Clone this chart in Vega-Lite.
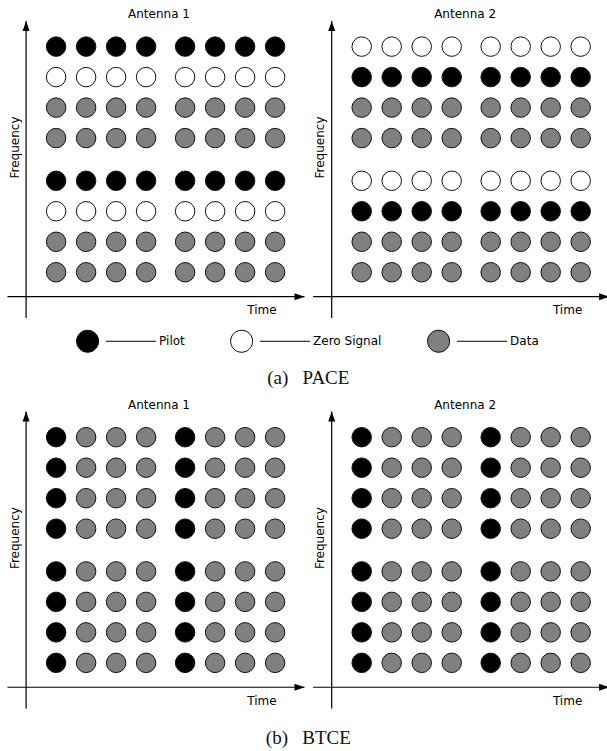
{
  "$schema": "https://vega.github.io/schema/vega-lite/v6.json",
  "padding": {"left": 6.5, "top": 8, "right": 0, "bottom": 0},
  "background": "white",
  "datasets": {
    "pace_antenna1": [
      {"time":1,"freq":8.4,"type":"Pilot"},{"time":2,"freq":8.4,"type":"Pilot"},{"time":3,"freq":8.4,"type":"Pilot"},{"time":4,"freq":8.4,"type":"Pilot"},{"time":5.3,"freq":8.4,"type":"Pilot"},{"time":6.3,"freq":8.4,"type":"Pilot"},{"time":7.3,"freq":8.4,"type":"Pilot"},{"time":8.3,"freq":8.4,"type":"Pilot"},
      {"time":1,"freq":7.4,"type":"Zero Signal"},{"time":2,"freq":7.4,"type":"Zero Signal"},{"time":3,"freq":7.4,"type":"Zero Signal"},{"time":4,"freq":7.4,"type":"Zero Signal"},{"time":5.3,"freq":7.4,"type":"Zero Signal"},{"time":6.3,"freq":7.4,"type":"Zero Signal"},{"time":7.3,"freq":7.4,"type":"Zero Signal"},{"time":8.3,"freq":7.4,"type":"Zero Signal"},
      {"time":1,"freq":6.4,"type":"Data"},{"time":2,"freq":6.4,"type":"Data"},{"time":3,"freq":6.4,"type":"Data"},{"time":4,"freq":6.4,"type":"Data"},{"time":5.3,"freq":6.4,"type":"Data"},{"time":6.3,"freq":6.4,"type":"Data"},{"time":7.3,"freq":6.4,"type":"Data"},{"time":8.3,"freq":6.4,"type":"Data"},
      {"time":1,"freq":5.4,"type":"Data"},{"time":2,"freq":5.4,"type":"Data"},{"time":3,"freq":5.4,"type":"Data"},{"time":4,"freq":5.4,"type":"Data"},{"time":5.3,"freq":5.4,"type":"Data"},{"time":6.3,"freq":5.4,"type":"Data"},{"time":7.3,"freq":5.4,"type":"Data"},{"time":8.3,"freq":5.4,"type":"Data"},
      {"time":1,"freq":4,"type":"Pilot"},{"time":2,"freq":4,"type":"Pilot"},{"time":3,"freq":4,"type":"Pilot"},{"time":4,"freq":4,"type":"Pilot"},{"time":5.3,"freq":4,"type":"Pilot"},{"time":6.3,"freq":4,"type":"Pilot"},{"time":7.3,"freq":4,"type":"Pilot"},{"time":8.3,"freq":4,"type":"Pilot"},
      {"time":1,"freq":3,"type":"Zero Signal"},{"time":2,"freq":3,"type":"Zero Signal"},{"time":3,"freq":3,"type":"Zero Signal"},{"time":4,"freq":3,"type":"Zero Signal"},{"time":5.3,"freq":3,"type":"Zero Signal"},{"time":6.3,"freq":3,"type":"Zero Signal"},{"time":7.3,"freq":3,"type":"Zero Signal"},{"time":8.3,"freq":3,"type":"Zero Signal"},
      {"time":1,"freq":2,"type":"Data"},{"time":2,"freq":2,"type":"Data"},{"time":3,"freq":2,"type":"Data"},{"time":4,"freq":2,"type":"Data"},{"time":5.3,"freq":2,"type":"Data"},{"time":6.3,"freq":2,"type":"Data"},{"time":7.3,"freq":2,"type":"Data"},{"time":8.3,"freq":2,"type":"Data"},
      {"time":1,"freq":1,"type":"Data"},{"time":2,"freq":1,"type":"Data"},{"time":3,"freq":1,"type":"Data"},{"time":4,"freq":1,"type":"Data"},{"time":5.3,"freq":1,"type":"Data"},{"time":6.3,"freq":1,"type":"Data"},{"time":7.3,"freq":1,"type":"Data"},{"time":8.3,"freq":1,"type":"Data"}
    ],
    "pace_antenna2": [
      {"time":1,"freq":8.4,"type":"Zero Signal"},{"time":2,"freq":8.4,"type":"Zero Signal"},{"time":3,"freq":8.4,"type":"Zero Signal"},{"time":4,"freq":8.4,"type":"Zero Signal"},{"time":5.3,"freq":8.4,"type":"Zero Signal"},{"time":6.3,"freq":8.4,"type":"Zero Signal"},{"time":7.3,"freq":8.4,"type":"Zero Signal"},{"time":8.3,"freq":8.4,"type":"Zero Signal"},
      {"time":1,"freq":7.4,"type":"Pilot"},{"time":2,"freq":7.4,"type":"Pilot"},{"time":3,"freq":7.4,"type":"Pilot"},{"time":4,"freq":7.4,"type":"Pilot"},{"time":5.3,"freq":7.4,"type":"Pilot"},{"time":6.3,"freq":7.4,"type":"Pilot"},{"time":7.3,"freq":7.4,"type":"Pilot"},{"time":8.3,"freq":7.4,"type":"Pilot"},
      {"time":1,"freq":6.4,"type":"Data"},{"time":2,"freq":6.4,"type":"Data"},{"time":3,"freq":6.4,"type":"Data"},{"time":4,"freq":6.4,"type":"Data"},{"time":5.3,"freq":6.4,"type":"Data"},{"time":6.3,"freq":6.4,"type":"Data"},{"time":7.3,"freq":6.4,"type":"Data"},{"time":8.3,"freq":6.4,"type":"Data"},
      {"time":1,"freq":5.4,"type":"Data"},{"time":2,"freq":5.4,"type":"Data"},{"time":3,"freq":5.4,"type":"Data"},{"time":4,"freq":5.4,"type":"Data"},{"time":5.3,"freq":5.4,"type":"Data"},{"time":6.3,"freq":5.4,"type":"Data"},{"time":7.3,"freq":5.4,"type":"Data"},{"time":8.3,"freq":5.4,"type":"Data"},
      {"time":1,"freq":4,"type":"Zero Signal"},{"time":2,"freq":4,"type":"Zero Signal"},{"time":3,"freq":4,"type":"Zero Signal"},{"time":4,"freq":4,"type":"Zero Signal"},{"time":5.3,"freq":4,"type":"Zero Signal"},{"time":6.3,"freq":4,"type":"Zero Signal"},{"time":7.3,"freq":4,"type":"Zero Signal"},{"time":8.3,"freq":4,"type":"Zero Signal"},
      {"time":1,"freq":3,"type":"Pilot"},{"time":2,"freq":3,"type":"Pilot"},{"time":3,"freq":3,"type":"Pilot"},{"time":4,"freq":3,"type":"Pilot"},{"time":5.3,"freq":3,"type":"Pilot"},{"time":6.3,"freq":3,"type":"Pilot"},{"time":7.3,"freq":3,"type":"Pilot"},{"time":8.3,"freq":3,"type":"Pilot"},
      {"time":1,"freq":2,"type":"Data"},{"time":2,"freq":2,"type":"Data"},{"time":3,"freq":2,"type":"Data"},{"time":4,"freq":2,"type":"Data"},{"time":5.3,"freq":2,"type":"Data"},{"time":6.3,"freq":2,"type":"Data"},{"time":7.3,"freq":2,"type":"Data"},{"time":8.3,"freq":2,"type":"Data"},
      {"time":1,"freq":1,"type":"Data"},{"time":2,"freq":1,"type":"Data"},{"time":3,"freq":1,"type":"Data"},{"time":4,"freq":1,"type":"Data"},{"time":5.3,"freq":1,"type":"Data"},{"time":6.3,"freq":1,"type":"Data"},{"time":7.3,"freq":1,"type":"Data"},{"time":8.3,"freq":1,"type":"Data"}
    ],
    "btce_antenna1": [
      {"time":1,"freq":8.4,"type":"Pilot"},{"time":2,"freq":8.4,"type":"Data"},{"time":3,"freq":8.4,"type":"Data"},{"time":4,"freq":8.4,"type":"Data"},{"time":5.3,"freq":8.4,"type":"Pilot"},{"time":6.3,"freq":8.4,"type":"Data"},{"time":7.3,"freq":8.4,"type":"Data"},{"time":8.3,"freq":8.4,"type":"Data"},
      {"time":1,"freq":7.4,"type":"Pilot"},{"time":2,"freq":7.4,"type":"Data"},{"time":3,"freq":7.4,"type":"Data"},{"time":4,"freq":7.4,"type":"Data"},{"time":5.3,"freq":7.4,"type":"Pilot"},{"time":6.3,"freq":7.4,"type":"Data"},{"time":7.3,"freq":7.4,"type":"Data"},{"time":8.3,"freq":7.4,"type":"Data"},
      {"time":1,"freq":6.4,"type":"Pilot"},{"time":2,"freq":6.4,"type":"Data"},{"time":3,"freq":6.4,"type":"Data"},{"time":4,"freq":6.4,"type":"Data"},{"time":5.3,"freq":6.4,"type":"Pilot"},{"time":6.3,"freq":6.4,"type":"Data"},{"time":7.3,"freq":6.4,"type":"Data"},{"time":8.3,"freq":6.4,"type":"Data"},
      {"time":1,"freq":5.4,"type":"Pilot"},{"time":2,"freq":5.4,"type":"Data"},{"time":3,"freq":5.4,"type":"Data"},{"time":4,"freq":5.4,"type":"Data"},{"time":5.3,"freq":5.4,"type":"Pilot"},{"time":6.3,"freq":5.4,"type":"Data"},{"time":7.3,"freq":5.4,"type":"Data"},{"time":8.3,"freq":5.4,"type":"Data"},
      {"time":1,"freq":4,"type":"Pilot"},{"time":2,"freq":4,"type":"Data"},{"time":3,"freq":4,"type":"Data"},{"time":4,"freq":4,"type":"Data"},{"time":5.3,"freq":4,"type":"Pilot"},{"time":6.3,"freq":4,"type":"Data"},{"time":7.3,"freq":4,"type":"Data"},{"time":8.3,"freq":4,"type":"Data"},
      {"time":1,"freq":3,"type":"Pilot"},{"time":2,"freq":3,"type":"Data"},{"time":3,"freq":3,"type":"Data"},{"time":4,"freq":3,"type":"Data"},{"time":5.3,"freq":3,"type":"Pilot"},{"time":6.3,"freq":3,"type":"Data"},{"time":7.3,"freq":3,"type":"Data"},{"time":8.3,"freq":3,"type":"Data"},
      {"time":1,"freq":2,"type":"Pilot"},{"time":2,"freq":2,"type":"Data"},{"time":3,"freq":2,"type":"Data"},{"time":4,"freq":2,"type":"Data"},{"time":5.3,"freq":2,"type":"Pilot"},{"time":6.3,"freq":2,"type":"Data"},{"time":7.3,"freq":2,"type":"Data"},{"time":8.3,"freq":2,"type":"Data"},
      {"time":1,"freq":1,"type":"Pilot"},{"time":2,"freq":1,"type":"Data"},{"time":3,"freq":1,"type":"Data"},{"time":4,"freq":1,"type":"Data"},{"time":5.3,"freq":1,"type":"Pilot"},{"time":6.3,"freq":1,"type":"Data"},{"time":7.3,"freq":1,"type":"Data"},{"time":8.3,"freq":1,"type":"Data"}
    ],
    "btce_antenna2": [
      {"time":1,"freq":8.4,"type":"Pilot"},{"time":2,"freq":8.4,"type":"Data"},{"time":3,"freq":8.4,"type":"Data"},{"time":4,"freq":8.4,"type":"Data"},{"time":5.3,"freq":8.4,"type":"Pilot"},{"time":6.3,"freq":8.4,"type":"Data"},{"time":7.3,"freq":8.4,"type":"Data"},{"time":8.3,"freq":8.4,"type":"Data"},
      {"time":1,"freq":7.4,"type":"Pilot"},{"time":2,"freq":7.4,"type":"Data"},{"time":3,"freq":7.4,"type":"Data"},{"time":4,"freq":7.4,"type":"Data"},{"time":5.3,"freq":7.4,"type":"Pilot"},{"time":6.3,"freq":7.4,"type":"Data"},{"time":7.3,"freq":7.4,"type":"Data"},{"time":8.3,"freq":7.4,"type":"Data"},
      {"time":1,"freq":6.4,"type":"Pilot"},{"time":2,"freq":6.4,"type":"Data"},{"time":3,"freq":6.4,"type":"Data"},{"time":4,"freq":6.4,"type":"Data"},{"time":5.3,"freq":6.4,"type":"Pilot"},{"time":6.3,"freq":6.4,"type":"Data"},{"time":7.3,"freq":6.4,"type":"Data"},{"time":8.3,"freq":6.4,"type":"Data"},
      {"time":1,"freq":5.4,"type":"Pilot"},{"time":2,"freq":5.4,"type":"Data"},{"time":3,"freq":5.4,"type":"Data"},{"time":4,"freq":5.4,"type":"Data"},{"time":5.3,"freq":5.4,"type":"Pilot"},{"time":6.3,"freq":5.4,"type":"Data"},{"time":7.3,"freq":5.4,"type":"Data"},{"time":8.3,"freq":5.4,"type":"Data"},
      {"time":1,"freq":4,"type":"Pilot"},{"time":2,"freq":4,"type":"Data"},{"time":3,"freq":4,"type":"Data"},{"time":4,"freq":4,"type":"Data"},{"time":5.3,"freq":4,"type":"Pilot"},{"time":6.3,"freq":4,"type":"Data"},{"time":7.3,"freq":4,"type":"Data"},{"time":8.3,"freq":4,"type":"Data"},
      {"time":1,"freq":3,"type":"Pilot"},{"time":2,"freq":3,"type":"Data"},{"time":3,"freq":3,"type":"Data"},{"time":4,"freq":3,"type":"Data"},{"time":5.3,"freq":3,"type":"Pilot"},{"time":6.3,"freq":3,"type":"Data"},{"time":7.3,"freq":3,"type":"Data"},{"time":8.3,"freq":3,"type":"Data"},
      {"time":1,"freq":2,"type":"Pilot"},{"time":2,"freq":2,"type":"Data"},{"time":3,"freq":2,"type":"Data"},{"time":4,"freq":2,"type":"Data"},{"time":5.3,"freq":2,"type":"Pilot"},{"time":6.3,"freq":2,"type":"Data"},{"time":7.3,"freq":2,"type":"Data"},{"time":8.3,"freq":2,"type":"Data"},
      {"time":1,"freq":1,"type":"Pilot"},{"time":2,"freq":1,"type":"Data"},{"time":3,"freq":1,"type":"Data"},{"time":4,"freq":1,"type":"Data"},{"time":5.3,"freq":1,"type":"Pilot"},{"time":6.3,"freq":1,"type":"Data"},{"time":7.3,"freq":1,"type":"Data"},{"time":8.3,"freq":1,"type":"Data"}
    ]
  },
  "spacing": 10.6,
  "vconcat": [
    {
      "title": {"text": "(a)\u00a0\u00a0\u00a0PACE", "orient": "bottom", "anchor": "middle", "font": "Liberation Serif", "fontSize": 19, "fontWeight": "normal", "color": "#111", "offset": 68, "baseline": "alphabetic", "dy": -3},
      "spacing": 6.6,
      "hconcat": [
        {
          "width": 297, "height": 297,
          "title": {"text": "Antenna 1", "dx": 3, "dy": 5},
          "data": {"name": "pace_antenna1"},
          "layer": [
            {"mark": {"type": "circle", "size": 380, "opacity": 1, "stroke": "#111", "strokeWidth": 1},
             "encoding": {
               "x": {"field": "time", "type": "quantitative", "scale": {"domain": [-0.62, 9.28], "nice": false, "zero": false}, "axis": {"title": "Time"}},
               "y": {"field": "freq", "type": "quantitative", "scale": {"domain": [-0.5, 9.24], "nice": false, "zero": false}, "axis": {"title": "Frequency"}},
               "fill": {"field": "type", "type": "nominal", "scale": {"domain": ["Pilot", "Zero Signal", "Data"], "range": ["#000000", "#ffffff", "#808080"]},
                 "legend": {"orient": "none", "legendX": 68.6, "legendY": 308.5, "direction": "horizontal", "title": null, "padding": 0,
                   "symbolType": "M1,0C1,0.552,0.552,1,0,1C-0.552,1,-1,0.552,-1,0C-1,-0.552,-0.552,-1,0,-1C0.552,-1,1,-0.552,1,0ZM1.67,0L6.22,0",
                   "symbolSize": 484, "symbolStrokeColor": "#000", "symbolStrokeWidth": 1, "symbolOpacity": 1,
                   "labelOffset": 60, "labelFontSize": 12, "labelFont": "DejaVu Sans", "labelColor": "#000", "labelLimit": 200, "columnPadding": 43}}
             }},
            {"data": {"values": [{}]}, "mark": {"type": "rule", "color": "#000", "strokeWidth": 1.2}, "encoding": {"x": {"datum": 0}}},
            {"data": {"values": [{}]}, "mark": {"type": "rule", "color": "#000", "strokeWidth": 1.2}, "encoding": {"y": {"datum": 0.2}}},
            {"data": {"values": [{}]}, "mark": {"type": "point", "filled": true, "opacity": 1, "color": "#000", "size": 100, "shape": "M0,0L-2,-0.7L-2,0.7Z"}, "encoding": {"x": {"datum": 9.28}, "y": {"datum": 0.2}}},
            {"data": {"values": [{}]}, "mark": {"type": "point", "filled": true, "opacity": 1, "color": "#000", "size": 100, "shape": "M0,0L-0.7,2L0.7,2Z"}, "encoding": {"x": {"datum": 0}, "y": {"datum": 9.24}}}
          ]
        },
        {
          "width": 296, "height": 297,
          "title": {"text": "Antenna 2", "dx": 4, "dy": 5},
          "data": {"name": "pace_antenna2"},
          "layer": [
            {"mark": {"type": "circle", "size": 380, "opacity": 1, "stroke": "#111", "strokeWidth": 1},
             "encoding": {
               "x": {"field": "time", "type": "quantitative", "scale": {"domain": [-0.62, 9.247], "nice": false, "zero": false}, "axis": {"title": "Time"}},
               "y": {"field": "freq", "type": "quantitative", "scale": {"domain": [-0.5, 9.24], "nice": false, "zero": false}, "axis": {"title": "Frequency"}},
               "fill": {"field": "type", "type": "nominal", "scale": {"domain": ["Pilot", "Zero Signal", "Data"], "range": ["#000000", "#ffffff", "#808080"]}, "legend": null}
             }},
            {"data": {"values": [{}]}, "mark": {"type": "rule", "color": "#000", "strokeWidth": 1.2}, "encoding": {"x": {"datum": 0}}},
            {"data": {"values": [{}]}, "mark": {"type": "rule", "color": "#000", "strokeWidth": 1.2}, "encoding": {"y": {"datum": 0.2}}},
            {"data": {"values": [{}]}, "mark": {"type": "point", "filled": true, "opacity": 1, "color": "#000", "size": 100, "shape": "M0,0L-2,-0.7L-2,0.7Z"}, "encoding": {"x": {"datum": 9.247}, "y": {"datum": 0.2}}},
            {"data": {"values": [{}]}, "mark": {"type": "point", "filled": true, "opacity": 1, "color": "#000", "size": 100, "shape": "M0,0L-0.7,2L0.7,2Z"}, "encoding": {"x": {"datum": 0}, "y": {"datum": 9.24}}}
          ]
        }
      ]
    },
    {
      "title": {"text": "(b)\u00a0\u00a0\u00a0BTCE", "orient": "bottom", "anchor": "middle", "font": "Liberation Serif", "fontSize": 19, "fontWeight": "normal", "color": "#111", "offset": 35, "baseline": "alphabetic"},
      "spacing": 6.6,
      "hconcat": [
        {
          "width": 297, "height": 297,
          "title": {"text": "Antenna 1", "dx": 3, "dy": 5},
          "data": {"name": "btce_antenna1"},
          "layer": [
            {"mark": {"type": "circle", "size": 380, "opacity": 1, "stroke": "#111", "strokeWidth": 1},
             "encoding": {
               "x": {"field": "time", "type": "quantitative", "scale": {"domain": [-0.62, 9.28], "nice": false, "zero": false}, "axis": {"title": "Time"}},
               "y": {"field": "freq", "type": "quantitative", "scale": {"domain": [-0.5, 9.24], "nice": false, "zero": false}, "axis": {"title": "Frequency"}},
               "fill": {"field": "type", "type": "nominal", "scale": {"domain": ["Pilot", "Zero Signal", "Data"], "range": ["#000000", "#ffffff", "#808080"]}, "legend": null}
             }},
            {"data": {"values": [{}]}, "mark": {"type": "rule", "color": "#000", "strokeWidth": 1.2}, "encoding": {"x": {"datum": 0}}},
            {"data": {"values": [{}]}, "mark": {"type": "rule", "color": "#000", "strokeWidth": 1.2}, "encoding": {"y": {"datum": 0.2}}},
            {"data": {"values": [{}]}, "mark": {"type": "point", "filled": true, "opacity": 1, "color": "#000", "size": 100, "shape": "M0,0L-2,-0.7L-2,0.7Z"}, "encoding": {"x": {"datum": 9.28}, "y": {"datum": 0.2}}},
            {"data": {"values": [{}]}, "mark": {"type": "point", "filled": true, "opacity": 1, "color": "#000", "size": 100, "shape": "M0,0L-0.7,2L0.7,2Z"}, "encoding": {"x": {"datum": 0}, "y": {"datum": 9.24}}}
          ]
        },
        {
          "width": 296, "height": 297,
          "title": {"text": "Antenna 2", "dx": 4, "dy": 5},
          "data": {"name": "btce_antenna2"},
          "layer": [
            {"mark": {"type": "circle", "size": 380, "opacity": 1, "stroke": "#111", "strokeWidth": 1},
             "encoding": {
               "x": {"field": "time", "type": "quantitative", "scale": {"domain": [-0.62, 9.247], "nice": false, "zero": false}, "axis": {"title": "Time"}},
               "y": {"field": "freq", "type": "quantitative", "scale": {"domain": [-0.5, 9.24], "nice": false, "zero": false}, "axis": {"title": "Frequency"}},
               "fill": {"field": "type", "type": "nominal", "scale": {"domain": ["Pilot", "Zero Signal", "Data"], "range": ["#000000", "#ffffff", "#808080"]}, "legend": null}
             }},
            {"data": {"values": [{}]}, "mark": {"type": "rule", "color": "#000", "strokeWidth": 1.2}, "encoding": {"x": {"datum": 0}}},
            {"data": {"values": [{}]}, "mark": {"type": "rule", "color": "#000", "strokeWidth": 1.2}, "encoding": {"y": {"datum": 0.2}}},
            {"data": {"values": [{}]}, "mark": {"type": "point", "filled": true, "opacity": 1, "color": "#000", "size": 100, "shape": "M0,0L-2,-0.7L-2,0.7Z"}, "encoding": {"x": {"datum": 9.247}, "y": {"datum": 0.2}}},
            {"data": {"values": [{}]}, "mark": {"type": "point", "filled": true, "opacity": 1, "color": "#000", "size": 100, "shape": "M0,0L-0.7,2L0.7,2Z"}, "encoding": {"x": {"datum": 0}, "y": {"datum": 9.24}}}
          ]
        }
      ]
    }
  ],
  "config": {
    "view": {"stroke": null},
    "font": "DejaVu Sans",
    "title": {"font": "DejaVu Sans", "fontSize": 12, "fontWeight": "normal", "color": "#000", "offset": 0, "baseline": "bottom"},
    "axis": {"domain": false, "ticks": false, "labels": false, "grid": false, "titleFont": "DejaVu Sans", "titleFontSize": 12, "titleFontWeight": "normal", "titleColor": "#000"},
    "axisX": {"titleX": 254, "titleY": -4.3, "titleBaseline": "alphabetic", "titleAlign": "center"},
    "axisY": {"titleX": 10.5, "titleY": 126, "titleAngle": 270, "titleBaseline": "alphabetic", "titleAlign": "center"}
  }
}
